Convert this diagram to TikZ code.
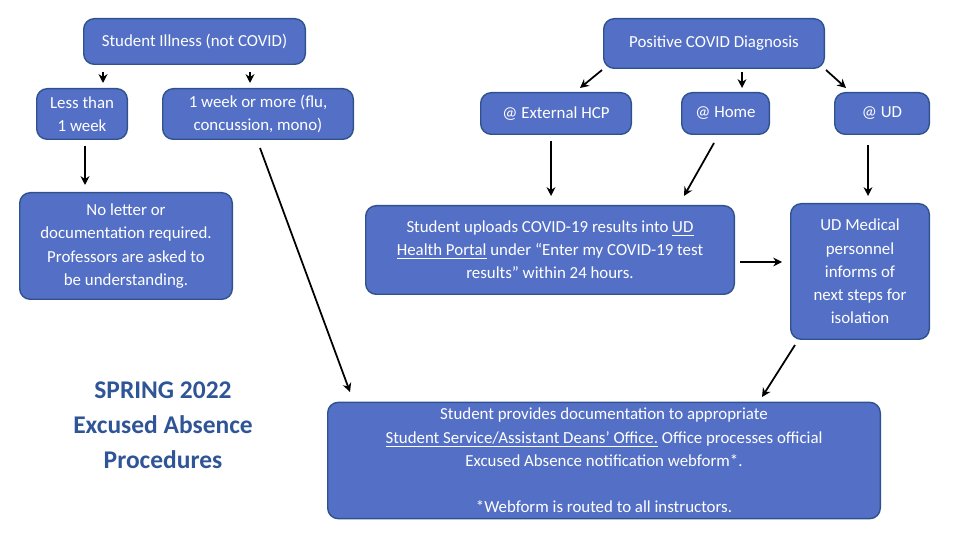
\documentclass[tikz,border=0pt]{standalone}
\usepackage{fontspec}
\setmainfont{Carlito}
\usetikzlibrary{arrows.meta}
\definecolor{boxfill}{HTML}{5470C6}
\definecolor{boxline}{HTML}{2F528F}
\definecolor{titleblue}{HTML}{2F5597}
\begin{document}
\begin{tikzpicture}[x=0.02cm,y=-0.02cm,
  box/.style={draw=boxline,line width=0.8pt,fill=boxfill,rounded corners=6pt,text=white,align=center,font=\fontsize{9.6}{13.2}\selectfont},
  arr/.style={-{Stealth[length=5pt,width=5pt]},line width=1pt}]
\useasboundingbox (0,0) rectangle (960,540);
\newcommand{\bx}[6]{\node[box,minimum width=#4*0.02cm-0.8pt,minimum height=#5*0.02cm-0.8pt] (#1) at (#2,#3) {#6};}
\bx{ill}{194.5}{41.5}{223}{47}{Student Illness (not COVID)}
\bx{less}{82}{114}{92}{52}{Less than\\1 week}
\bx{more}{258}{114}{192}{52}{1 week or more (flu,\\concussion, mono)}
\bx{noletter}{126}{246}{214}{108}{No letter or\\documentation required.\\Professors are asked to\\be understanding.}
\bx{pos}{714}{43.5}{222}{51}{Positive COVID Diagnosis}
\bx{hcp}{556}{113.5}{152}{43}{@ External HCP}
\bx{home}{725.5}{113.5}{89}{43}{@ Home}
\bx{ud}{882}{113.5}{96}{43}{@ UD}
\bx{upl}{550}{250}{370}{90}{Student uploads COVID-19 results into \underline{UD}\\\underline{Health Portal} under “Enter my COVID-19 test\\results” within 24 hours.}
\bx{med}{860}{271.5}{140}{137}{UD Medical\\personnel\\informs of\\next steps for\\isolation}
\bx{doc}{604}{460.5}{554}{113}{Student provides documentation to appropriate\\\underline{Student Service/Assistant Deans' Office.} Office processes official\\Excused Absence notification webform*.\\[13.2pt]*Webform is routed to all instructors.}
\node[text=titleblue,align=center,font=\bfseries\fontsize{14.5}{20}\selectfont] (title) at (163,425) {SPRING 2022\\Excused Absence\\Procedures};
\foreach \n/\a/\b/\c/\d in {1/103/72/103/83,2/250/72/250/83,3/85/146/85/185,4/260/148/350/392,5/602/70/580/88,6/742/72/742/88,7/826/70/846/88,8/551/141/551/196,9/714/143/684/196,10/868/145/868/196,11/740/262/782/262,12/795/345/762/397}{
  \coordinate (s\n) at (\a,\b); \coordinate (e\n) at (\c,\d);
  \draw[arr] (s\n) -- (e\n);}
\end{tikzpicture}
\end{document}
